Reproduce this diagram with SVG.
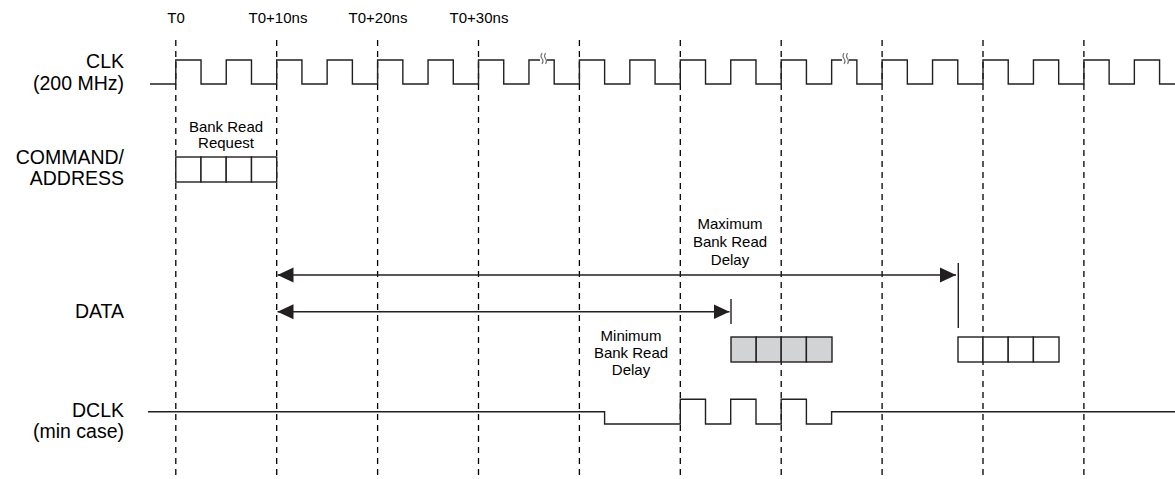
<svg xmlns="http://www.w3.org/2000/svg" width="1175" height="479" viewBox="0 0 1175 479">
<defs>
<style>
.lbl{font-family:"Liberation Sans",Arial,sans-serif;font-size:19.5px;fill:#000;text-anchor:end}
.sm{font-family:"Liberation Sans",Arial,sans-serif;font-size:15px;fill:#000;text-anchor:middle}
.grid{stroke:#000;stroke-width:1.3;stroke-dasharray:6 5;fill:none}
.wave{stroke:#231f20;stroke-width:1.4;fill:none}
.cell{stroke:#231f20;stroke-width:1.4;fill:#fff}
.cellg{stroke:#231f20;stroke-width:1.4;fill:#d1d3d4}
.arrow{stroke:#231f20;stroke-width:1.4;fill:none;marker-start:url(#ah);marker-end:url(#ah)}
.bar{stroke:#231f20;stroke-width:1.4}
.sq{stroke:#777;stroke-width:1.2;fill:none}
</style>
<marker id="ah" markerUnits="userSpaceOnUse" markerWidth="16" markerHeight="16" viewBox="0 0 15 14" refX="15" refY="7" orient="auto-start-reverse">
<path d="M0,0 L15,7 L0,14 Z" fill="#231f20"/>
</marker>
</defs>
<rect width="1175" height="479" fill="#fff"/>

<g id="time-labels">
<text class="sm" x="176" y="23">T0</text>
<text class="sm" x="278" y="23">T0+10ns</text>
<text class="sm" x="378" y="23">T0+20ns</text>
<text class="sm" x="479" y="23">T0+30ns</text>
</g>

<g id="grid">
<line class="grid" x1="175.8" y1="40" x2="175.8" y2="476"/>
<line class="grid" x1="276.7" y1="40" x2="276.7" y2="476"/>
<line class="grid" x1="377.6" y1="40" x2="377.6" y2="476"/>
<line class="grid" x1="478.5" y1="40" x2="478.5" y2="476"/>
<line class="grid" x1="579.4" y1="40" x2="579.4" y2="476"/>
<line class="grid" x1="680.3" y1="40" x2="680.3" y2="476"/>
<line class="grid" x1="781.2" y1="40" x2="781.2" y2="476"/>
<line class="grid" x1="882.1" y1="40" x2="882.1" y2="476"/>
<line class="grid" x1="983" y1="40" x2="983" y2="476"/>
<line class="grid" x1="1083.9" y1="40" x2="1083.9" y2="476"/>
</g>

<g id="clk">
<text class="lbl" x="124" y="68">CLK</text>
<text class="lbl" x="124" y="90">(200 MHz)</text>
<path class="wave" d="M150,84 H175.8 V60 H201.03 V84 H226.25 V60 H251.48 V84 H276.7 V60 H301.93 V84 H327.15 V60 H352.38 V84 H377.6 V60 H402.83 V84 H428.05 V60 H453.28 V84 H478.5 V60 H503.73 V84 H528.95 V60 H554.18 V84 H579.4 V60 H604.63 V84 H629.85 V60 H655.08 V84 H680.3 V60 H705.53 V84 H730.75 V60 H755.98 V84 H781.2 V60 H806.43 V84 H831.65 V60 H856.88 V84 H882.1 V60 H907.33 V84 H932.55 V60 H957.78 V84 H983 V60 H1008.23 V84 H1033.45 V60 H1058.68 V84 H1083.9 V60 H1109.13 V84 H1134.35 V60 H1159.58 V84 H1175"/>
<rect x="540" y="56" width="7" height="8" fill="#fff"/>
<path class="sq" d="M542,53 q-2,3 0,5.5 q2,2.5 0,5.5 M545.5,53 q-2,3 0,5.5 q2,2.5 0,5.5"/>
<rect x="842" y="56" width="7" height="8" fill="#fff"/>
<path class="sq" d="M844,53 q-2,3 0,5.5 q2,2.5 0,5.5 M847.5,53 q-2,3 0,5.5 q2,2.5 0,5.5"/>
</g>

<g id="command-address">
<text class="lbl" x="124" y="164">COMMAND/</text>
<text class="lbl" x="124" y="184.5">ADDRESS</text>
<text class="sm" x="226" y="132">Bank Read</text>
<text class="sm" x="226" y="148">Request</text>
<rect class="cell" x="175.8" y="157" width="25.2" height="25"/>
<rect class="cell" x="201" y="157" width="25.2" height="25"/>
<rect class="cell" x="226.2" y="157" width="25.3" height="25"/>
<rect class="cell" x="251.5" y="157" width="25.2" height="25"/>
</g>

<g id="data">
<text class="lbl" x="124" y="318">DATA</text>
<rect class="cellg" x="731" y="337" width="25.2" height="25"/>
<rect class="cellg" x="756.2" y="337" width="25" height="25"/>
<rect class="cellg" x="781.2" y="337" width="25.2" height="25"/>
<rect class="cellg" x="806.4" y="337" width="25.6" height="25"/>
<rect class="cell" x="958" y="337" width="25" height="25"/>
<rect class="cell" x="983" y="337" width="25.2" height="25"/>
<rect class="cell" x="1008.2" y="337" width="25.2" height="25"/>
<rect class="cell" x="1033.4" y="337" width="25.6" height="25"/>
</g>

<g id="dclk">
<text class="lbl" x="124" y="417">DCLK</text>
<text class="lbl" x="124" y="438">(min case)</text>
<path class="wave" d="M148,411.7 H604.6 V424 H680.3 V399.3 H705.5 V424 H730.7 V399.3 H756 V424 H781.2 V399.3 H806.4 V424 H831.6 V411.7 H1175"/>
</g>

<g id="max-delay-label">
<text class="sm" x="730" y="229">Maximum</text>
<text class="sm" x="730" y="247">Bank Read</text>
<text class="sm" x="730" y="265">Delay</text>
</g>

<g id="min-delay-label">
<text class="sm" x="631" y="341">Minimum</text>
<text class="sm" x="631" y="358">Bank Read</text>
<text class="sm" x="631" y="375">Delay</text>
</g>

<g id="connectors">
<line class="arrow" x1="277.5" y1="275" x2="956" y2="275"/>
<line class="bar" x1="958.3" y1="263" x2="958.3" y2="328"/>
<line class="arrow" x1="277.5" y1="311.7" x2="729.5" y2="311.7"/>
<line class="bar" x1="731" y1="299" x2="731" y2="324"/>
</g>
</svg>
